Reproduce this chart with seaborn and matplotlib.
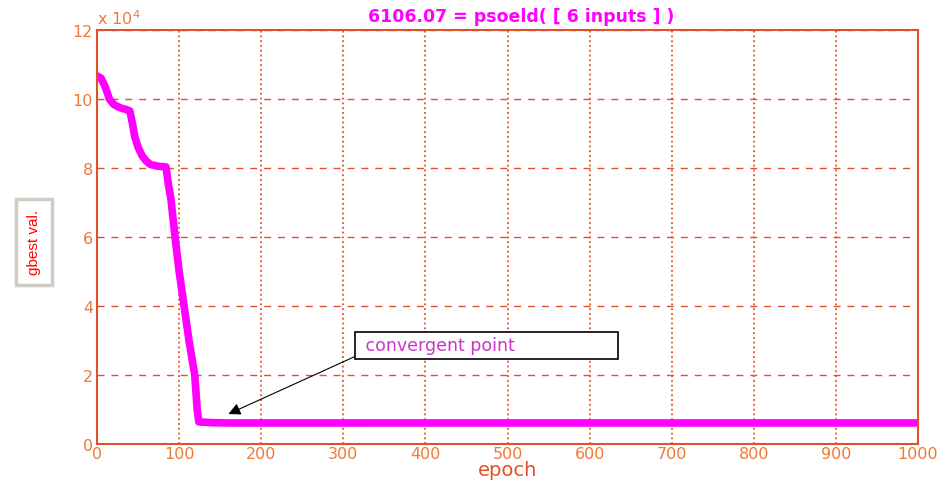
import pandas as pd
import matplotlib.pyplot as plt
import seaborn as sns

# gbest value per epoch (x 1e4)
epoch = [0, 5, 10, 15, 20, 25, 30, 35, 40, 43, 46, 50, 55, 60, 65, 75, 84,
         87, 90, 95, 100, 106, 112, 119, 122, 124, 140, 160, 1000]
gbest = [10.67, 10.6, 10.35, 10.0, 9.85, 9.78, 9.73, 9.7, 9.65, 9.3, 8.9, 8.6,
         8.35, 8.2, 8.1, 8.05, 8.03, 7.5, 7.1, 6.0, 5.0, 4.0, 3.0, 2.0, 1.0,
         0.64, 0.62, 0.61, 0.610607]
xticks = [0, 100, 200, 300, 400, 500, 600, 700, 800, 900, 1000]
yticks = [0, 2, 4, 6, 8, 10, 12]
title = "6106.07 = psoeld( [ 6 inputs ] )"

sns.set_style("white")
plt.rcParams['font.family'] = ['DejaVu Sans']

axcol = '#e0502a'
tickcol = '#f07838'
magenta = '#ff00ff'

df = pd.DataFrame({'epoch': epoch, 'gbest': gbest})

fig = plt.figure(figsize=(9.44, 4.81), dpi=100)
ax = fig.add_axes([0.1028, 0.0748, 0.8697, 0.8608])
sns.lineplot(data=df, x='epoch', y='gbest', ax=ax, color=magenta,
             linewidth=5.5, estimator=None)

ax.set_xlim(0, 1000)
ax.set_ylim(0, 12)
ax.set_xticks(xticks)
ax.set_yticks(yticks)
ax.set_xticklabels([str(t) for t in xticks])
ax.set_yticklabels([str(t) for t in yticks])
ax.tick_params(direction='in', colors=axcol, labelcolor=tickcol,
               labelsize=11.5, length=5, width=1.2, pad=3)
ax.tick_params(axis='x', pad=1.5)
for s in ax.spines.values():
    s.set_color(axcol)
    s.set_linewidth(1.5)

ax.xaxis.grid(True, linestyle=':', color=axcol, linewidth=1.3)
ax.yaxis.grid(True, linestyle=(0, (5, 5)), color=axcol, linewidth=1)
ax.set_axisbelow(True)

ax.set_xlabel('epoch', color=axcol, fontsize=14, labelpad=-1)
ax.set_ylabel('')
ax.text(0.517, 1.012, title, transform=ax.transAxes, color=magenta,
        fontsize=12.5, fontweight='bold', ha='center', va='bottom')
ax.text(0, 1.008, r'x 10$^4$', transform=ax.transAxes, color=tickcol,
        fontsize=11.5, va='bottom', ha='left')

fig.text(0.036, 0.495, 'gbest val.', rotation=90, color='red',
         fontsize=11, va='center', ha='center',
         family=['Liberation Sans Narrow', 'Liberation Sans'],
         bbox=dict(boxstyle='square,pad=0.7', fc='white', ec='#d0ccc4', lw=2.5))

ax.annotate(' convergent point                  ', xy=(160, 0.87), xytext=(320, 2.6),
            color='#cc33cc', fontsize=12.5, ha='left', va='bottom',
            bbox=dict(boxstyle='square,pad=0.25', fc='white', ec='black', lw=1.2),
            arrowprops=dict(arrowstyle='-|>', color='black', lw=0.8,
                            mutation_scale=18, shrinkA=0, shrinkB=0,
                            relpos=(0, 0)))

fig.savefig('out.png', dpi=100)
